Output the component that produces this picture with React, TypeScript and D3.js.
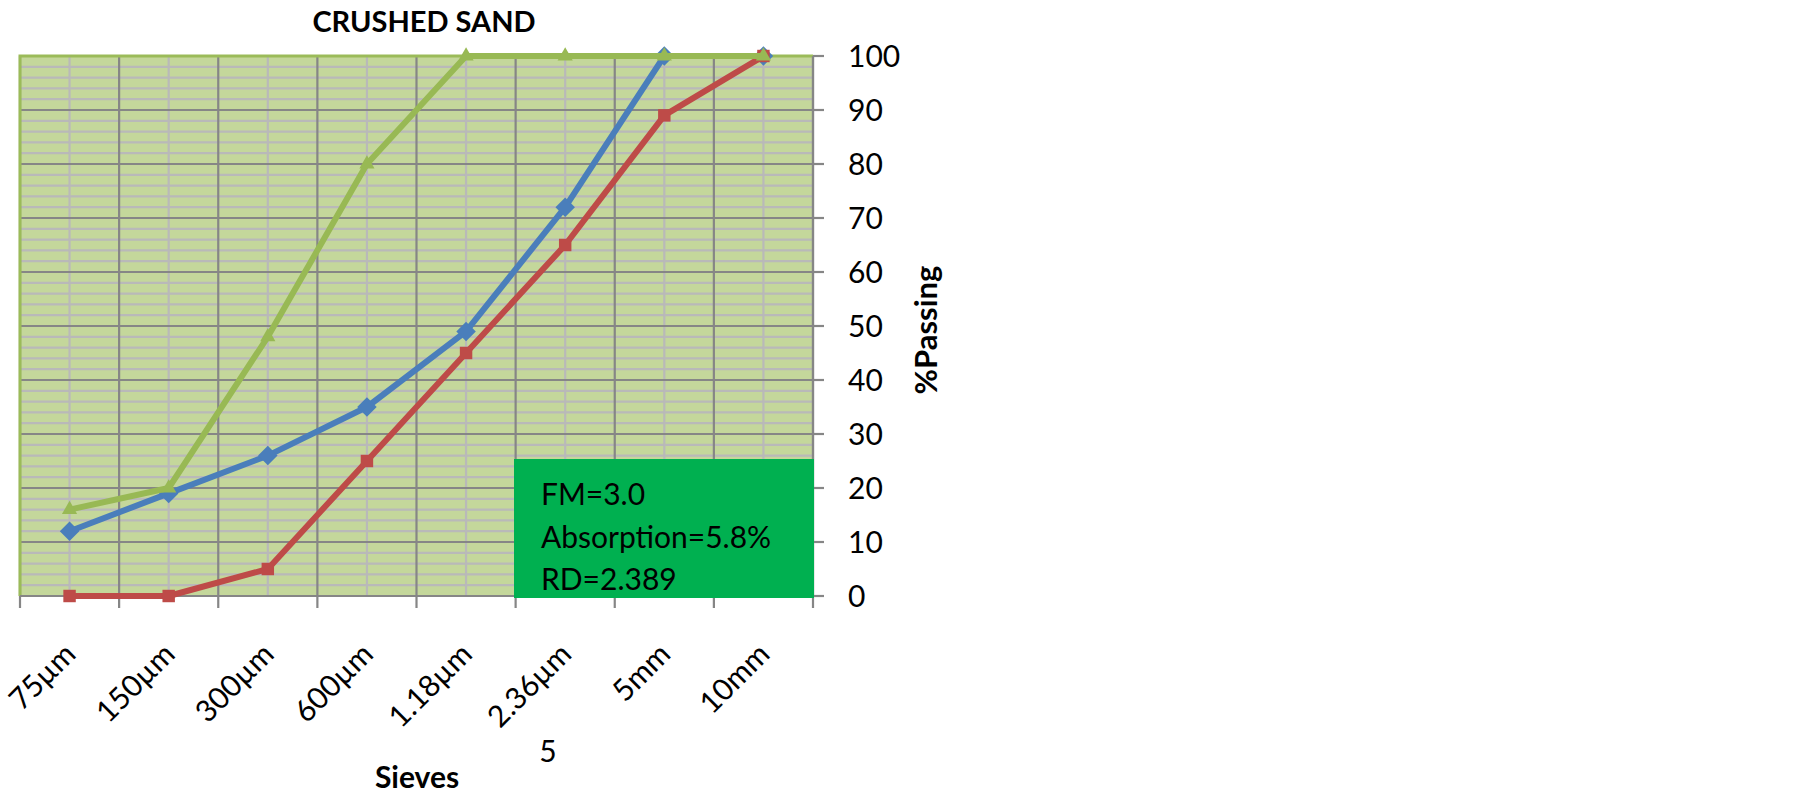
import React from 'react'
import * as d3 from 'd3'

// sieve sizes on the x axis
const categories = ['75µm', '150µm', '300µm', '600µm', '1.18µm', '2.36µm', '5mm', '10mm']
// % passing for each series
const blueValues = [12, 19, 26, 35, 49, 72, 100, 100]
const redValues = [0, 0, 5, 25, 45, 65, 89, 100]
const greenValues = [16, 20, 48, 80, 100, 100, 100, 100]
const boxLines = ['FM=3.0', 'Absorption=5.8%', 'RD=2.389']

const FONT = 'Lato, "Open Sans", sans-serif'

const App = () => {
  const left = 20
  const right = 813
  const top = 56
  const bottom = 596

  const xScale = d3.scaleBand().domain(categories).range([left, right])
  const yScale = d3.scaleLinear().domain([0, 100]).range([bottom, top])
  const cx = (c: string) => (xScale(c) as number) + xScale.bandwidth() / 2

  const majorTicks = yScale.ticks(10)
  const minorTicks = d3.range(0, 101, 2).filter((v) => v % 10 !== 0)
  const boundaries = categories.map((c) => xScale(c) as number).concat([right])

  const line = d3
    .line<number>()
    .x((d, i) => cx(categories[i]))
    .y((d) => yScale(d))

  const series = [
    { values: blueValues, color: '#4A7EBB', symbol: d3.symbol(d3.symbolSquare, 190)(), rotate: 45 },
    { values: redValues, color: '#BE4B48', symbol: d3.symbol(d3.symbolSquare, 155)(), rotate: 0 },
    { values: greenValues, color: '#98B954', symbol: d3.symbol(d3.symbolTriangle, 100)(), rotate: 0 }
  ]

  return (
    <svg
      width={1799}
      height={797}
      style={{ position: 'absolute', left: 0, top: 0, background: '#fff' }}
      fontFamily={FONT}
    >
      {/* plot area */}
      <rect x={left} y={top} width={right - left} height={bottom - top} fill="#C4D79B" />
      {minorTicks.map((t) => (
        <line key={'mi' + t} x1={left} x2={right} y1={yScale(t)} y2={yScale(t)} stroke="#B9B9B9" strokeWidth={2.2} />
      ))}
      {categories.map((c) => (
        <line key={'vc' + c} x1={cx(c)} x2={cx(c)} y1={top} y2={bottom} stroke="#B9B9B9" strokeWidth={2.2} />
      ))}
      {majorTicks.map((t) => (
        <line key={'ma' + t} x1={left} x2={right} y1={yScale(t)} y2={yScale(t)} stroke="#868686" strokeWidth={2.2} />
      ))}
      {boundaries.map((b, i) => (
        <line key={'vb' + i} x1={b} x2={b} y1={top} y2={bottom} stroke="#868686" strokeWidth={2.2} />
      ))}
      {/* green border top/left */}
      <path d={`M${left},${bottom} V${top} H${right}`} fill="none" stroke="#9BBB59" strokeWidth={3} />

      {/* axes */}
      <line x1={left} x2={right} y1={bottom} y2={bottom} stroke="#868686" strokeWidth={2.2} />
      <line x1={right} x2={right} y1={top} y2={bottom} stroke="#868686" strokeWidth={2.2} />
      {boundaries.map((b, i) => (
        <line key={'xt' + i} x1={b} x2={b} y1={bottom} y2={bottom + 12} stroke="#868686" strokeWidth={2.2} />
      ))}
      {majorTicks.map((t) => (
        <line key={'yt' + t} x1={right} x2={right + 11} y1={yScale(t)} y2={yScale(t)} stroke="#868686" strokeWidth={2.2} />
      ))}
      {majorTicks.map((t) => (
        <text key={'yl' + t} x={848} y={yScale(t)} dy="0.36em" fontSize={30} fill="#000">
          {t}
        </text>
      ))}
      {categories.map((c) => (
        <text
          key={'xl' + c}
          transform={`translate(${cx(c) + 8},${656}) rotate(-45)`}
          textAnchor="end"
          fontSize={30}
          fill="#000"
        >
          {c}
        </text>
      ))}

      {/* text box */}
      <rect x={514} y={459} width={300} height={139} fill="#00B050" />
      {boxLines.map((t, i) => (
        <text key={'bx' + i} x={541} y={505 + i * 42.5} fontSize={30} fill="#000">
          {t}
        </text>
      ))}

      {/* series */}
      {series.map((s, si) => (
        <g key={'s' + si}>
          <path d={line(s.values) as string} fill="none" stroke={s.color} strokeWidth={6} strokeLinejoin="round" />
          {s.values.map((v, i) => (
            <path
              key={i}
              d={s.symbol as string}
              transform={`translate(${cx(categories[i])},${yScale(v)}) rotate(${s.rotate})`}
              fill={s.color}
            />
          ))}
        </g>
      ))}

      {/* titles */}
      <text x={424} y={32} textAnchor="middle" fontSize={29} fontWeight="bold" fill="#000">
        CRUSHED SAND
      </text>
      <text
        transform={`translate(937,330) rotate(-90)`}
        textAnchor="middle"
        fontSize={31}
        fontWeight="bold"
        fill="#000"
      >
        %Passing
      </text>
      <text x={548} y={762} textAnchor="middle" fontSize={30} fill="#000">
        5
      </text>
      <text x={417} y={788} textAnchor="middle" fontSize={30} fontWeight="bold" fill="#000">
        Sieves
      </text>
    </svg>
  )
}

export default App
